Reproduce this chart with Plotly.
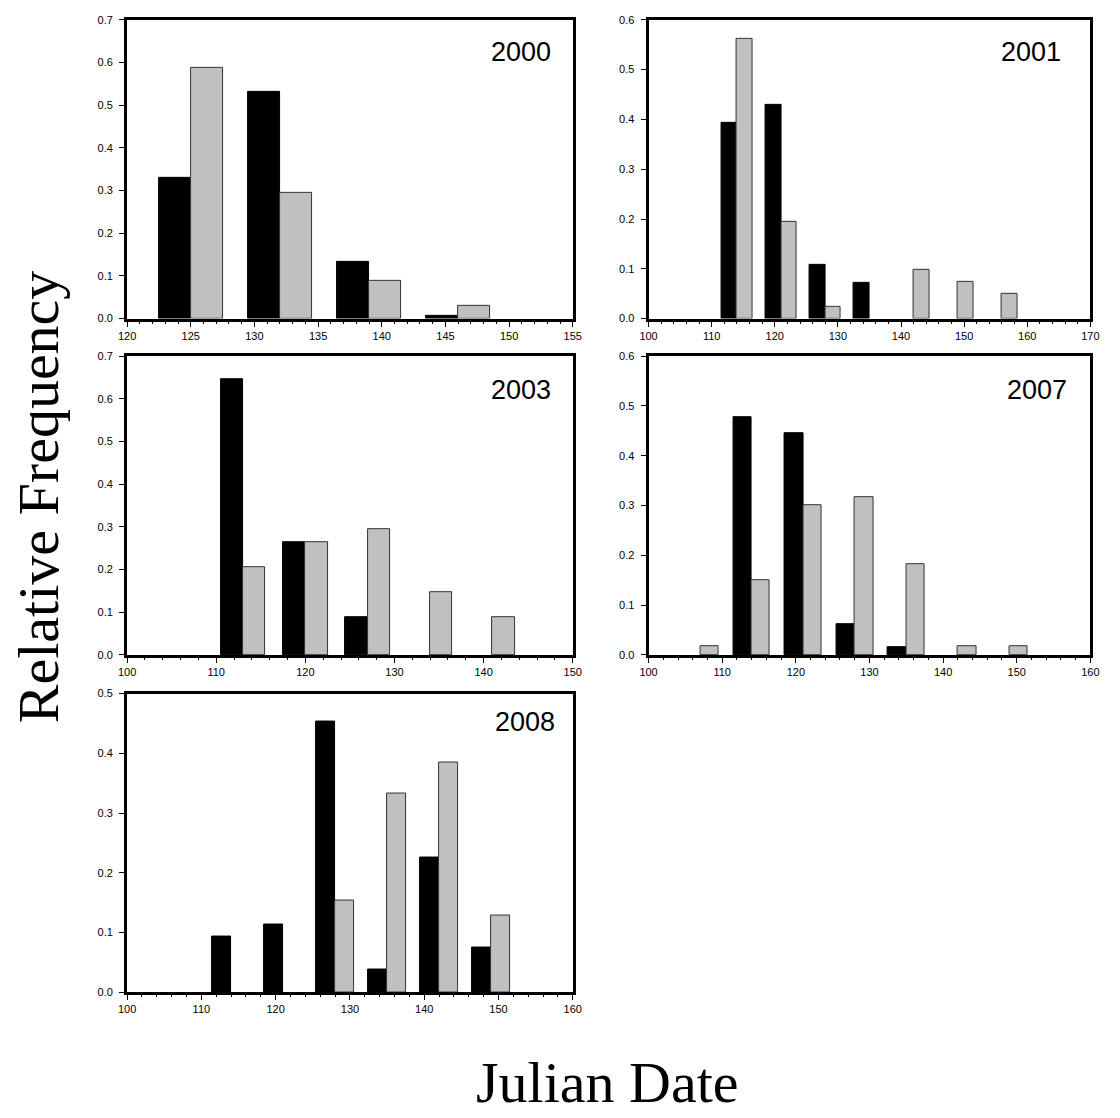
import plotly.graph_objects as go

# ---- data (relative frequency per 7-day bin; bin centre = Julian date) ----
years = ["2000", "2001", "2003", "2007", "2008"]

centers_2000 = [125, 132, 139, 146]
black_2000 = [0.330, 0.531, 0.133, 0.006]
grey_2000 = [0.588, 0.294, 0.088, 0.029]

centers_2001 = [114, 121, 128, 135, 142, 149, 156]
black_2001 = [0.393, 0.429, 0.107, 0.071, 0.0, 0.0, 0.0]
grey_2001 = [0.561, 0.195, 0.024, 0.0, 0.098, 0.073, 0.049]

centers_2003 = [113, 120, 127, 134, 141]
black_2003 = [0.647, 0.265, 0.088, 0.0, 0.0]
grey_2003 = [0.206, 0.265, 0.294, 0.147, 0.088]

centers_2007 = [107, 114, 121, 128, 135, 142, 149]
black_2007 = [0.0, 0.477, 0.446, 0.062, 0.015, 0.0, 0.0]
grey_2007 = [0.017, 0.150, 0.300, 0.317, 0.183, 0.017, 0.017]

centers_2008 = [114, 121, 128, 135, 142, 149]
black_2008 = [0.094, 0.113, 0.453, 0.038, 0.226, 0.075]
grey_2008 = [0.0, 0.0, 0.154, 0.333, 0.385, 0.128]

x_ranges = {"2000": [120, 155], "2001": [100, 170], "2003": [100, 150],
            "2007": [100, 160], "2008": [100, 160]}
x_dticks = {"2000": 5, "2001": 10, "2003": 10, "2007": 10, "2008": 10}
x_minor = {"2000": 1, "2001": 2, "2003": 2, "2007": 2, "2008": 2}
y_max = {"2000": 0.7, "2001": 0.6, "2003": 0.7, "2007": 0.6, "2008": 0.5}

panels = {
    "2000": (centers_2000, black_2000, grey_2000),
    "2001": (centers_2001, black_2001, grey_2001),
    "2003": (centers_2003, black_2003, grey_2003),
    "2007": (centers_2007, black_2007, grey_2007),
    "2008": (centers_2008, black_2008, grey_2008),
}

# ---- layout geometry (pixels in a 1120 x 1118 canvas) ----
W, H = 1120, 1118
col_px = [(120, 573), (650, 1099)]
row_px = [(14, 316), (354, 656), (695, 997)]
placement = {"2000": (0, 0), "2001": (0, 1), "2003": (1, 0),
             "2007": (1, 1), "2008": (2, 0)}
label_pos = {"2000": (553, 47), "2001": (1071, 47), "2003": (553, 388),
             "2007": (1077, 388), "2008": (557, 724)}

BAR_W = 2.5
tick_font = dict(family="Liberation Sans, Arial, sans-serif", size=11, color="black")


def nz(vals):
    # empty bins are simply not drawn
    return [v if v > 0 else None for v in vals]


fig = go.Figure()
layout = dict(width=W, height=H, margin=dict(l=0, r=0, t=0, b=0),
              paper_bgcolor="white", plot_bgcolor="white",
              showlegend=False, bargap=0, annotations=[])

for i, yr in enumerate(years):
    n = "" if i == 0 else str(i + 1)
    xa, ya = "x" + n, "y" + n
    centers, blk, gry = panels[yr]
    fig.add_trace(go.Bar(x=centers, y=nz(blk), width=BAR_W, offset=-BAR_W,
                         marker=dict(color="black", line=dict(color="black", width=1)),
                         xaxis=xa, yaxis=ya, name="black " + yr))
    fig.add_trace(go.Bar(x=centers, y=nz(gry), width=BAR_W, offset=0,
                         marker=dict(color="#c0c0c0", line=dict(color="#333333", width=1)),
                         xaxis=xa, yaxis=ya, name="grey " + yr))
    r, c = placement[yr]
    x0, x1 = col_px[c]
    y0, y1 = row_px[r]
    layout["xaxis" + n] = dict(
        domain=[x0 / W, x1 / W], anchor=ya, range=x_ranges[yr],
        dtick=x_dticks[yr], tick0=0, showgrid=False, zeroline=False,
        showline=True, linewidth=3, linecolor="black", mirror=True,
        ticks="outside", ticklen=5, tickwidth=1, tickcolor="black",
        minor=dict(ticks="outside", ticklen=2, dtick=x_minor[yr], tickcolor="black", showgrid=False),
        tickfont=tick_font, fixedrange=True)
    layout["yaxis" + n] = dict(
        domain=[1 - y1 / H, 1 - y0 / H], anchor=xa, range=[0, y_max[yr]],
        dtick=0.1, tickformat=".1f", showgrid=False, zeroline=False,
        showline=True, linewidth=3, linecolor="black", mirror=True,
        ticks="outside", ticklen=5, tickwidth=1, tickcolor="black",
        ticklabelstandoff=4,
        tickfont=tick_font, fixedrange=True)
    lx, ly = label_pos[yr]
    layout["annotations"].append(dict(
        text=yr, x=lx / W, y=1 - ly / H, xref="paper", yref="paper",
        xanchor="right", yanchor="middle", showarrow=False,
        font=dict(family="Liberation Sans, Arial, sans-serif", size=27, color="black")))

layout["annotations"].append(dict(
    text="Relative Frequency", x=30 / W, y=1 - 496 / H, xref="paper", yref="paper",
    xanchor="center", yanchor="middle", textangle=-90, showarrow=False,
    font=dict(family="Liberation Serif, Times New Roman, serif", size=58, color="black")))
layout["annotations"].append(dict(
    text="Julian Date", x=608 / W, y=1 - 1088 / H, xref="paper", yref="paper",
    xanchor="center", yanchor="middle", showarrow=False,
    font=dict(family="Liberation Serif, Times New Roman, serif", size=58, color="black")))

fig.update_layout(**layout)
fig.write_html("out.html")
